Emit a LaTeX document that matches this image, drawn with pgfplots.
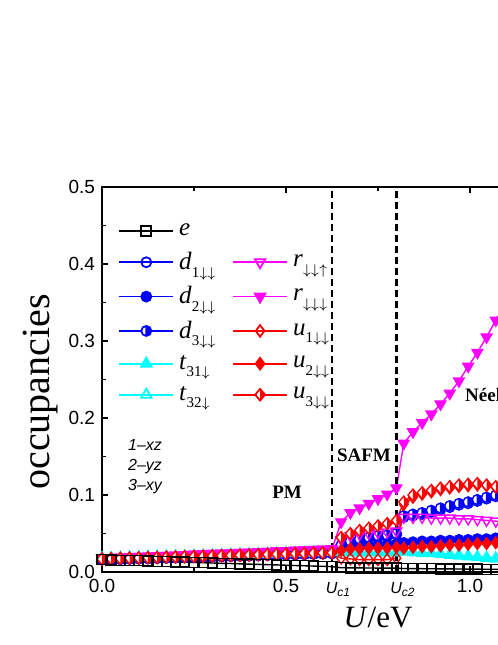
\documentclass[border=0pt]{standalone}
\usepackage{fontspec}
\setmainfont{Liberation Serif}
\newfontfamily\arial{Liberation Sans}
\usepackage{pgfplots}
\pgfplotsset{compat=1.18}
\usepackage{pgfplotstable}

\definecolor{cblue}{RGB}{0,0,255}
\definecolor{cred}{RGB}{255,0,0}
\definecolor{cmag}{RGB}{255,0,255}
\definecolor{ccyan}{RGB}{0,255,255}

% half-filled marks (right half filled)
\pgfdeclareplotmark{halfcirc}{%
  \pgfpathcircle{\pgfpointorigin}{\pgfplotmarksize}\pgfusepathqfill
  \begin{pgfscope}\pgfsetfillcolor{cblue}%
  \pgfpathmoveto{\pgfqpoint{0pt}{\pgfplotmarksize}}%
  \pgfpatharc{90}{-90}{\pgfplotmarksize}\pgfpathclose\pgfusepathqfill
  \end{pgfscope}%
  \pgfpathcircle{\pgfpointorigin}{\pgfplotmarksize}%
  \pgfpathmoveto{\pgfqpoint{0pt}{\pgfplotmarksize}}%
  \pgfpathlineto{\pgfqpoint{0pt}{-\pgfplotmarksize}}\pgfusepathqstroke}
\pgfdeclareplotmark{halfdia}{%
  \pgfpathmoveto{\pgfqpoint{0pt}{\pgfplotmarksize}}%
  \pgfpathlineto{\pgfqpoint{.85\pgfplotmarksize}{0pt}}%
  \pgfpathlineto{\pgfqpoint{0pt}{-\pgfplotmarksize}}%
  \pgfpathlineto{\pgfqpoint{-.85\pgfplotmarksize}{0pt}}\pgfpathclose\pgfusepathqfill
  \begin{pgfscope}\pgfsetfillcolor{cred}%
  \pgfpathmoveto{\pgfqpoint{0pt}{\pgfplotmarksize}}%
  \pgfpathlineto{\pgfqpoint{.85\pgfplotmarksize}{0pt}}%
  \pgfpathlineto{\pgfqpoint{0pt}{-\pgfplotmarksize}}\pgfpathclose\pgfusepathqfill
  \end{pgfscope}%
  \pgfpathmoveto{\pgfqpoint{0pt}{\pgfplotmarksize}}%
  \pgfpathlineto{\pgfqpoint{.85\pgfplotmarksize}{0pt}}%
  \pgfpathlineto{\pgfqpoint{0pt}{-\pgfplotmarksize}}%
  \pgfpathlineto{\pgfqpoint{-.85\pgfplotmarksize}{0pt}}\pgfpathclose\pgfusepathqstroke}

\pgfplotstableread{
U     e      d1     d2     d3     t31    t32    ru     rd     u1     u2     u3
0.000 0.0160 0.0160 0.0160 0.0160 0.0180 0.0180 0.0180 0.0180 0.0170 0.0170 0.0170
0.025 0.0156 0.0163 0.0163 0.0163 0.0183 0.0183 0.0185 0.0185 0.0173 0.0173 0.0173
0.050 0.0153 0.0166 0.0166 0.0166 0.0186 0.0186 0.0190 0.0190 0.0176 0.0176 0.0176
0.075 0.0149 0.0170 0.0170 0.0170 0.0190 0.0190 0.0194 0.0194 0.0180 0.0180 0.0180
0.100 0.0146 0.0173 0.0173 0.0173 0.0193 0.0193 0.0199 0.0199 0.0183 0.0183 0.0183
0.125 0.0142 0.0176 0.0176 0.0176 0.0196 0.0196 0.0204 0.0204 0.0186 0.0186 0.0186
0.150 0.0138 0.0179 0.0179 0.0179 0.0199 0.0199 0.0209 0.0209 0.0189 0.0189 0.0189
0.175 0.0135 0.0182 0.0182 0.0182 0.0202 0.0202 0.0214 0.0214 0.0192 0.0192 0.0192
0.200 0.0131 0.0186 0.0186 0.0186 0.0206 0.0206 0.0218 0.0218 0.0196 0.0196 0.0196
0.225 0.0128 0.0189 0.0189 0.0189 0.0209 0.0209 0.0223 0.0223 0.0199 0.0199 0.0199
0.250 0.0124 0.0192 0.0192 0.0192 0.0212 0.0212 0.0228 0.0228 0.0202 0.0202 0.0202
0.275 0.0120 0.0195 0.0195 0.0195 0.0215 0.0215 0.0233 0.0233 0.0205 0.0205 0.0205
0.300 0.0117 0.0198 0.0198 0.0198 0.0218 0.0218 0.0238 0.0238 0.0208 0.0208 0.0208
0.325 0.0113 0.0202 0.0202 0.0202 0.0222 0.0222 0.0242 0.0242 0.0212 0.0212 0.0212
0.350 0.0110 0.0205 0.0205 0.0205 0.0225 0.0225 0.0247 0.0247 0.0215 0.0215 0.0215
0.375 0.0106 0.0208 0.0208 0.0208 0.0228 0.0228 0.0252 0.0252 0.0218 0.0218 0.0218
0.400 0.0102 0.0211 0.0211 0.0211 0.0231 0.0231 0.0257 0.0257 0.0221 0.0221 0.0221
0.425 0.0099 0.0214 0.0214 0.0214 0.0234 0.0234 0.0262 0.0262 0.0224 0.0224 0.0224
0.450 0.0095 0.0218 0.0218 0.0218 0.0238 0.0238 0.0266 0.0266 0.0228 0.0228 0.0228
0.475 0.0092 0.0221 0.0221 0.0221 0.0241 0.0241 0.0271 0.0271 0.0231 0.0231 0.0231
0.500 0.0088 0.0224 0.0224 0.0224 0.0244 0.0244 0.0276 0.0276 0.0234 0.0234 0.0234
0.525 0.0084 0.0227 0.0227 0.0227 0.0247 0.0247 0.0281 0.0281 0.0237 0.0237 0.0237
0.550 0.0081 0.0230 0.0230 0.0230 0.0250 0.0250 0.0286 0.0286 0.0240 0.0240 0.0240
0.575 0.0077 0.0234 0.0234 0.0234 0.0254 0.0254 0.0290 0.0290 0.0244 0.0244 0.0244
0.600 0.0074 0.0237 0.0237 0.0237 0.0257 0.0257 0.0295 0.0295 0.0247 0.0247 0.0247
0.625 0.0070 0.0240 0.0240 0.0240 0.0260 0.0260 0.0300 0.0300 0.0250 0.0250 0.0250
0.650 0.0055 0.033  0.031  0.035  0.026  0.025  0.042  0.065  0.018  0.028  0.045
0.675 0.0054 0.038  0.033  0.040  0.026  0.025  0.047  0.077  0.017  0.030  0.050
0.700 0.0053 0.041  0.034  0.043  0.026  0.025  0.049  0.083  0.016  0.030  0.054
0.725 0.0052 0.043  0.035  0.045  0.026  0.025  0.050  0.089  0.016  0.031  0.057
0.750 0.0051 0.045  0.035  0.047  0.026  0.025  0.051  0.095  0.016  0.031  0.060
0.775 0.0050 0.046  0.036  0.048  0.026  0.025  0.052  0.101  0.016  0.031  0.063
0.800 0.0050 0.048  0.036  0.050  0.026  0.025  0.053  0.109  0.018  0.032  0.067
0.820 0.0045 0.071  0.038  0.073  0.027  0.026  0.071  0.167  0.088  0.031  0.091
0.845 0.0044 0.073  0.039  0.075  0.026  0.025  0.071  0.182  0.097  0.032  0.100
0.870 0.0043 0.075  0.040  0.077  0.025  0.024  0.071  0.194  0.101  0.033  0.103
0.895 0.0042 0.078  0.040  0.080  0.025  0.024  0.070  0.205  0.104  0.033  0.106
0.920 0.0041 0.081  0.041  0.083  0.024  0.023  0.070  0.218  0.107  0.034  0.109
0.945 0.0040 0.084  0.041  0.086  0.023  0.022  0.070  0.232  0.109  0.035  0.111
0.970 0.0039 0.087  0.042  0.089  0.022  0.021  0.069  0.248  0.111  0.035  0.113
0.995 0.0038 0.089  0.042  0.091  0.021  0.020  0.069  0.267  0.112  0.036  0.114
1.020 0.0037 0.092  0.043  0.094  0.020  0.019  0.068  0.285  0.113  0.037  0.115
1.045 0.0036 0.095  0.043  0.097  0.019  0.018  0.067  0.305  0.112  0.037  0.113
1.070 0.0035 0.098  0.044  0.100  0.018  0.017  0.066  0.327  0.110  0.038  0.111
1.095 0.0034 0.100  0.044  0.102  0.017  0.016  0.065  0.347  0.108  0.038  0.109
}\occ

\pgfplotsset{
  se/.style={black, mark=square, mark options={fill=white}},
  sdone/.style={cblue, mark=o, mark options={fill=white}},
  sdtwo/.style={cblue, mark=*, mark options={fill=cblue}},
  sdthree/.style={cblue, mark=halfcirc, mark options={fill=white}},
  stone/.style={ccyan, mark=triangle*, mark size=3pt, mark options={fill=ccyan}},
  sttwo/.style={ccyan, mark=triangle, mark size=3pt, mark options={fill=white}},
  sru/.style={cmag, mark=triangle, mark size=3pt, mark options={rotate=180, fill=white}},
  srd/.style={cmag, mark=triangle*, mark size=3pt, mark options={rotate=180, fill=cmag}},
  suone/.style={cred, mark=diamond, mark size=2.9pt, mark options={fill=white}},
  sutwo/.style={cred, mark=diamond*, mark size=2.9pt, mark options={fill=cred}},
  suthree/.style={cred, mark=halfdia, mark size=2.9pt, mark options={fill=white}},
}

% legend symbol with a low subscript
\newcommand{\lt}[2]{\textit{#1}\raisebox{-3.8pt}{\fontsize{7.5}{8}\selectfont #2}}
\newcommand{\dn}{$\downarrow$}
\newcommand{\up}{$\uparrow$}

\begin{document}
\begin{tikzpicture}
\path[use as bounding box, clip] (0pt,0pt) rectangle (249pt,322.5pt);
\begin{axis}[
  at={(51pt,36.5pt)}, anchor=south west,
  scale only axis, width=276pt, height=192.5pt,
  xmin=0, xmax=1.5, ymin=0, ymax=0.5,
  clip=false,
  axis line style={line width=0.75pt},
  xtick={0,0.5,1,1.5}, minor xtick={0.25,0.75,1.25},
  ytick={0,0.1,0.2,0.3,0.4,0.5}, minor ytick={0.05,0.15,0.25,0.35,0.45},
  tick align=inside,
  major tick length=3pt, minor tick length=1.8pt,
  every tick/.style={line width=0.75pt, black},
  xticklabel style={font=\arial\fontsize{9.5}{10}\selectfont},
  yticklabel style={font=\arial\fontsize{9.5}{10}\selectfont},
  /pgf/number format/assume math mode=true,
  /pgf/number format/.cd, fixed, fixed zerofill, precision=1, /pgfplots/.cd,
  xlabel={\textit{U}/eV},
  xlabel style={font=\fontsize{15.5}{17}\selectfont, at={(axis description cs:0.5,-0.117)}, anchor=center},
  ylabel={occupancies},
  ylabel style={font=\fontsize{20}{22}\selectfont, at={(axis description cs:-0.112,0.468)}, anchor=center},
  every axis plot/.append style={line width=0.7pt, mark size=2.5pt},
  legend columns=2,
  legend cell align=left,
  legend image code/.code={\draw[line width=0.9pt, mark repeat=2, mark phase=2, #1] plot coordinates {(0pt,0pt) (13.5pt,0pt) (27pt,0pt)};},
  legend style={draw=none, fill=none, inner sep=0pt,
    at={(axis description cs:0.029,0.912)}, anchor=north west,
    font=\fontsize{12.5}{14}\selectfont, row sep=5pt,
    nodes={text width=24pt, inner xsep=2.5pt, inner ysep=1pt}},
]
\addplot[sdone, forget plot] table[x=U, y=d1] {\occ};
\addplot[sdtwo, forget plot] table[x=U, y=d2] {\occ};
\addplot[sdthree, forget plot] table[x=U, y=d3] {\occ};
\addplot[stone, forget plot] table[x=U, y=t31] {\occ};
\addplot[sttwo, forget plot] table[x=U, y=t32] {\occ};
\addplot[sru, forget plot] table[x=U, y=ru] {\occ};
\addplot[srd, forget plot] table[x=U, y=rd] {\occ};
\addplot[suone, forget plot] table[x=U, y=u1] {\occ};
\addplot[sutwo, forget plot] table[x=U, y=u2] {\occ};
\addplot[suthree, forget plot] table[x=U, y=u3] {\occ};
\addplot[se, forget plot] table[x=U, y=e] {\occ};
% phase boundaries
\addplot[black, line width=1.2pt, dash pattern=on 3.5pt off 2pt, forget plot] coordinates {(0.625,0) (0.625,0.5)};
\addplot[black, line width=1.2pt, dash pattern=on 3.5pt off 2pt, forget plot] coordinates {(0.8,0) (0.8,0.5)};

\addlegendimage{se}\addlegendentry{\textit{e}}
\addlegendimage{empty legend}\addlegendentry{}
\addlegendimage{sdone}\addlegendentry{\lt{d}{1\dn\dn}}
\addlegendimage{sru}\addlegendentry{\lt{r}{\dn\dn\up}}
\addlegendimage{sdtwo}\addlegendentry{\lt{d}{2\dn\dn}}
\addlegendimage{srd}\addlegendentry{\lt{r}{\dn\dn\dn}}
\addlegendimage{sdthree}\addlegendentry{\lt{d}{3\dn\dn}}
\addlegendimage{suone}\addlegendentry{\lt{u}{1\dn\dn}}
\addlegendimage{stone}\addlegendentry{\lt{t}{31\dn}}
\addlegendimage{sutwo}\addlegendentry{\lt{u}{2\dn\dn}}
\addlegendimage{sttwo}\addlegendentry{\lt{t}{32\dn}}
\addlegendimage{suthree}\addlegendentry{\lt{u}{3\dn\dn}}

\node[font=\bfseries\fontsize{9.5}{11}\selectfont] at (axis cs:0.503,0.104) {PM};
\node[font=\bfseries\fontsize{9.5}{11}\selectfont] at (axis cs:0.712,0.152) {SAFM};
\node[font=\bfseries\fontsize{9.5}{11}\selectfont, anchor=west, inner sep=0pt] at (axis cs:0.986,0.23) {Néel};
\node[font=\arial\itshape\fontsize{8}{9}\selectfont, anchor=base west, inner sep=0pt] at (axis cs:0.07,0.158) {1–xz};
\node[font=\arial\itshape\fontsize{8}{9}\selectfont, anchor=base west, inner sep=0pt] at (axis cs:0.07,0.132) {2–yz};
\node[font=\arial\itshape\fontsize{8}{9}\selectfont, anchor=base west, inner sep=0pt] at (axis cs:0.07,0.106) {3–xy};
\node[font=\arial\itshape\fontsize{8}{9}\selectfont, anchor=base, inner sep=0pt, xshift=3pt, yshift=-10.5pt] at (axis cs:0.625,0) {U\raisebox{-1.5pt}{\fontsize{6}{7}\selectfont c1}};
\node[font=\arial\itshape\fontsize{8}{9}\selectfont, anchor=base, inner sep=0pt, xshift=3pt, yshift=-10.5pt] at (axis cs:0.8,0) {U\raisebox{-1.5pt}{\fontsize{6}{7}\selectfont c2}};
\end{axis}
\end{tikzpicture}
\end{document}
